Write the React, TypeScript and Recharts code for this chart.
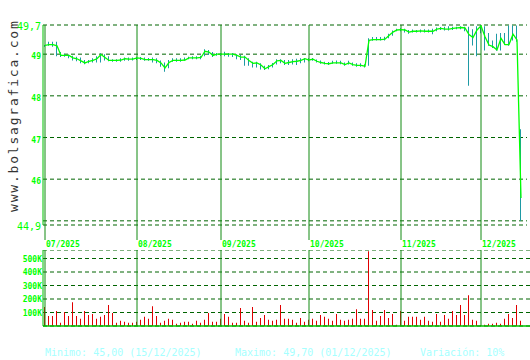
import { ComposedChart, Line, Bar, XAxis, YAxis, CartesianGrid, ReferenceLine } from 'recharts'

// Cotización diaria 07/2025 – 15/12/2025 (un punto por sesión)
const months = ['07/2025', '08/2025', '09/2025', '10/2025', '11/2025', '12/2025']
const monthStart = [0, 23, 44, 66, 89, 109]

const close = [
  // jul
  49.21, 49.23, 49.23, 49.2, 48.97, 48.97, 48.97, 48.91, 48.89, 48.84, 48.79, 48.83, 48.85, 48.89, 48.99, 48.92, 48.85, 48.85, 48.85, 48.86, 48.89, 48.88, 48.88,
  // ago
  48.91, 48.9, 48.87, 48.87, 48.87, 48.85, 48.79, 48.67, 48.8, 48.85, 48.85, 48.85, 48.86, 48.91, 48.91, 48.91, 48.92, 49.07, 49.05, 48.97, 49.0,
  // sep
  49.0, 49.0, 49.0, 49.0, 48.97, 48.93, 48.93, 48.85, 48.78, 48.79, 48.74, 48.65, 48.7, 48.75, 48.84, 48.85, 48.78, 48.8, 48.82, 48.83, 48.85, 48.89,
  // oct
  48.86, 48.88, 48.83, 48.8, 48.78, 48.77, 48.79, 48.79, 48.79, 48.75, 48.79, 48.75, 48.73, 48.73, 48.71, 49.33, 49.35, 49.35, 49.35, 49.36, 49.45, 49.53, 49.58,
  // nov
  49.59, 49.58, 49.53, 49.55, 49.55, 49.56, 49.55, 49.55, 49.55, 49.6, 49.62, 49.6, 49.6, 49.62, 49.63, 49.64, 49.63, 49.47, 49.4, 49.58,
  // dic
  49.68, 49.42, 49.22, 49.18, 49.1, 49.38, 49.23, 49.23, 49.48, 49.34, 45.55,
]

const high = [
  49.22, 49.3, 49.3, 49.3, 49.05, 49.01, 48.99, 48.96, 48.94, 48.92, 48.86, 48.86, 48.9, 48.95, 49.02, 49.0, 48.95, 48.88, 48.88, 48.9, 48.92, 48.92, 48.92,
  48.94, 48.93, 48.92, 48.91, 48.92, 48.9, 48.85, 48.8, 48.86, 48.9, 48.9, 48.9, 48.92, 48.94, 48.95, 48.95, 48.96, 49.12, 49.1, 49.05, 49.03,
  49.03, 49.06, 49.03, 49.03, 49.0, 48.98, 48.96, 48.9, 48.82, 48.82, 48.78, 48.72, 48.74, 48.79, 48.88, 48.88, 48.86, 48.86, 48.88, 48.89, 48.9, 48.91,
  48.9, 48.91, 48.87, 48.85, 48.82, 48.81, 48.84, 48.85, 48.84, 48.8, 48.84, 48.8, 48.78, 48.78, 48.76, 49.38, 49.41, 49.41, 49.41, 49.42, 49.49, 49.57, 49.61,
  49.62, 49.61, 49.58, 49.59, 49.58, 49.59, 49.6, 49.59, 49.61, 49.64, 49.65, 49.66, 49.67, 49.66, 49.66, 49.67, 49.66, 49.66, 49.6, 49.67,
  49.7, 49.67, 49.51, 49.33, 49.49, 49.51, 49.51, 49.69, 49.69, 49.69, 47.2,
]

const low = [
  49.18, 49.2, 49.18, 48.95, 48.93, 48.94, 48.9, 48.85, 48.83, 48.78, 48.76, 48.78, 48.8, 48.8, 48.8, 48.85, 48.83, 48.82, 48.82, 48.82, 48.84, 48.84, 48.85,
  48.86, 48.86, 48.84, 48.84, 48.8, 48.78, 48.7, 48.58, 48.66, 48.82, 48.82, 48.82, 48.84, 48.88, 48.88, 48.88, 48.88, 48.95, 48.98, 48.93, 48.96,
  48.96, 48.95, 48.94, 48.93, 48.88, 48.86, 48.72, 48.72, 48.68, 48.68, 48.63, 48.62, 48.64, 48.68, 48.75, 48.78, 48.74, 48.74, 48.75, 48.74, 48.78, 48.8,
  48.83, 48.84, 48.8, 48.77, 48.75, 48.74, 48.77, 48.77, 48.76, 48.72, 48.75, 48.72, 48.7, 48.7, 48.68, 48.72, 49.32, 49.33, 49.33, 49.33, 49.38, 49.44, 49.55,
  49.55, 49.52, 49.49, 49.52, 49.52, 49.52, 49.52, 49.52, 49.48, 49.55, 49.58, 49.57, 49.57, 49.58, 49.6, 49.6, 49.55, 48.24, 49.21, 48.95,
  49.5, 49.09, 49.2, 49.15, 49.08, 49.09, 49.22, 49.2, 49.33, 49.3, 45.0,
]

// volumen en miles
const volumeK = [
  140, 75, 75, 111, 24, 104, 75, 176, 75, 53, 111, 82, 89, 53, 68, 82, 155, 97, 24, 39, 31, 24, 24,
  31, 46, 68, 53, 147, 75, 24, 39, 53, 46, 17, 24, 31, 31, 17, 39, 24, 46, 97, 31, 31,
  53, 89, 68, 24, 24, 133, 39, 24, 140, 31, 60, 82, 46, 39, 46, 155, 53, 53, 46, 24, 60, 31,
  46, 53, 39, 82, 68, 53, 39, 89, 46, 39, 46, 53, 125, 53, 53, 553, 118, 39, 75, 118, 60, 89, 10,
  111, 39, 68, 68, 68, 46, 68, 39, 31, 89, 31, 82, 53, 111, 82, 155, 82, 227, 46, 39,
  7, 10, 17, 17, 24, 17, 53, 89, 60, 155, 39,
]

const priceTicks = [44.9, 45, 46, 47, 48, 49, 49.7]
const volumeTicks = [100, 200, 300, 400, 500]

const data = close.map((c, i) => ({ i, close: c, range: [low[i], high[i]], vol: volumeK[i] }))

const MONO = 'DejaVu Sans Mono'
const GRID = '#006400'
const MONTH_LINE = '#108a10'
const AXIS = '#00c000'

function PriceTick({ y, payload }: any) {
  const v = payload.value
  if (v === 45) return <g />
  const big = v === 49.7 || v === 44.9
  return (
    <text x={41} y={y} dy={big ? 5 : 5} textAnchor="end" fill="#00ff00" fontFamily={MONO}
      fontSize={big ? 10 : 8} fontWeight={big ? 400 : 700}>
      {String(v).replace('.', ',')}
    </text>
  )
}

function MonthTick({ x, payload }: any) {
  const k = monthStart.indexOf(payload.value)
  return (
    <text x={x + 1} y={247} fill="#00ff00" fontFamily={MONO} fontSize={8} fontWeight={700}>
      {months[k]}
    </text>
  )
}

function VolTick({ y, payload }: any) {
  return (
    <text x={42} y={y} dy={3} textAnchor="end" fill="#00ff00" fontFamily={MONO} fontSize={8} fontWeight={700}>
      {payload.value}K
    </text>
  )
}

export default function App() {
  return (
    <div style={{ position: 'absolute', left: 0, top: 0, width: 530, height: 360, background: '#fff', overflow: 'hidden' }}>
      <div style={{ position: 'absolute', left: 0, top: 0 }}>
        <ComposedChart width={530} height={250} data={data} margin={{ top: 25, right: 3, left: 0, bottom: 5 }}>
          <CartesianGrid vertical={false} stroke={GRID} strokeDasharray="4 3" />
          <XAxis dataKey="i" type="number" domain={[-0.5, 120.5]} ticks={monthStart} interval={0}
            axisLine={false} tickSize={15} tickLine={{ stroke: MONTH_LINE }} tick={<MonthTick />} height={20} />
          <YAxis type="number" domain={[44.9, 49.7]} ticks={priceTicks} interval={0} width={43}
            axisLine={{ stroke: AXIS }} tickLine={false} tick={<PriceTick />} />
          {monthStart.map((m) => (
            <ReferenceLine key={m} x={m} stroke={MONTH_LINE} />
          ))}
          <Bar dataKey="range" fill="#1e9aa5" barSize={1} isAnimationActive={false} />
          <Line dataKey="close" stroke="#00ff00" strokeWidth={1.3} dot={false} type="linear" isAnimationActive={false} />
        </ComposedChart>
      </div>
      <div style={{ position: 'absolute', left: 0, top: 250 }}>
        <ComposedChart width={530} height={78} data={data} margin={{ top: 0, right: 0, left: 0, bottom: 2 }}>
          <CartesianGrid vertical={false} stroke={GRID} strokeDasharray="4 3" />
          <XAxis dataKey="i" type="number" domain={[-0.5, 121.25]} hide />
          <YAxis type="number" domain={[0, 563]} ticks={volumeTicks} interval={0} width={43}
            axisLine={{ stroke: AXIS }} tickLine={false} tick={<VolTick />} />
          {monthStart.map((m) => (
            <ReferenceLine key={m} x={m} stroke={MONTH_LINE} />
          ))}
          <Bar dataKey="vol" fill="#e00000" barSize={1} isAnimationActive={false} />
          <ReferenceLine y={0} stroke={AXIS} strokeWidth={1.5} />
        </ComposedChart>
      </div>
      <svg width={530} height={360} style={{ position: 'absolute', left: 0, top: 0, pointerEvents: 'none' }}>
        <text transform="translate(18,212) rotate(-90)" fill="#333" fontFamily={MONO} fontSize={13} letterSpacing={1.8}>
          www.bolsagrafica.com
        </text>
        <g fontFamily={MONO} fontSize={10} fill="#a6ffff">
          <text x={45} y={356}>Minimo: 45,00 (15/12/2025)</text>
          <text x={235} y={356}>Maximo: 49,70 (01/12/2025)</text>
          <text x={420} y={356}>Variación: 10%</text>
        </g>
      </svg>
    </div>
  )
}
